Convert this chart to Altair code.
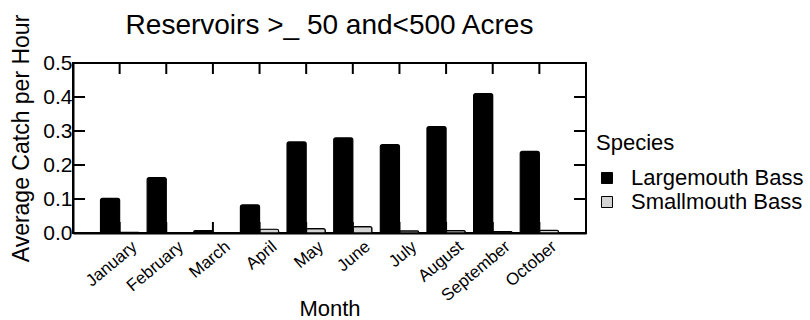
import altair as alt
import pandas as pd

# Monthly average catch per hour by species
months = ["January", "February", "March", "April", "May",
          "June", "July", "August", "September", "October"]
largemouth = [0.102, 0.163, 0.007, 0.083, 0.268, 0.280, 0.260, 0.313, 0.410, 0.240]
smallmouth = [0.002, 0.001, 0.0, 0.011, 0.013, 0.019, 0.006, 0.007, 0.004, 0.008]
species = ["Largemouth Bass", "Smallmouth Bass"]
y_ticks = [0.0, 0.1, 0.2, 0.3, 0.4, 0.5]

FONT = "Liberation Sans"
W, H = 513, 170

rows = []
for m, lm, sm in zip(months, largemouth, smallmouth):
    rows.append({"Month": m, "Species": species[0], "Catch": lm})
    rows.append({"Month": m, "Species": species[1], "Catch": sm})
df = pd.DataFrame(rows)

x_scale = alt.Scale(domain=months, paddingInner=0.18, paddingOuter=0.59)
y_scale = alt.Scale(domain=[0, 0.5], nice=False, zero=True)

x_axis = alt.Axis(title="Month", labelAngle=-40, labelAlign="right",
                  labelBaseline="top", labelPadding=5, labelOffset=10,
                  labelFontSize=17, ticks=False, titleFontSize=22,
                  titleBaseline="alphabetic", titleY=82,
                  domainWidth=2, domainColor="black")
y_axis = alt.Axis(title="Average Catch per Hour", values=y_ticks, format=".1f",
                  labelFontSize=21, labelPadding=1, ticks=False,
                  titleFontSize=23, titleBaseline="alphabetic", titleX=-45, titleY=75,
                  grid=False, domainWidth=2, domainColor="black")

x_enc = alt.X("Month:N", scale=x_scale, sort=months, axis=x_axis)
y_enc = alt.Y("Catch:Q", scale=y_scale, axis=y_axis)

bars = alt.Chart(df).mark_bar(
    stroke="black", strokeWidth=1.2, cornerRadiusTopLeft=2, cornerRadiusTopRight=2
).encode(
    x=x_enc,
    xOffset=alt.XOffset("Species:N", sort=species,
                        scale=alt.Scale(paddingInner=0, paddingOuter=0)),
    y=y_enc,
    color=alt.Color("Species:N", sort=species,
                    scale=alt.Scale(domain=species, range=["#000000", "#d4d4d4"]),
                    legend=alt.Legend(title="Species", orient="none", legendX=523, legendY=70,
                                      titleFontSize=22, titleFontWeight="normal",
                                      labelFontSize=22, labelLimit=300,
                                      symbolType="square", symbolSize=121,
                                      symbolStrokeColor="black", symbolStrokeWidth=1,
                                      labelOffset=13, rowPadding=2, titlePadding=12)),
)

# inward tick marks on all four sides of the frame
month_df = pd.DataFrame({"Month": months})
ytick_df = pd.DataFrame({"Catch": y_ticks[1:-1]})

top_ticks = alt.Chart(month_df).mark_rule(color="black", strokeWidth=2).encode(
    x=x_enc, y=alt.value(0), y2=alt.value(11))
bottom_ticks = alt.Chart(month_df).mark_rule(color="black", strokeWidth=2).encode(
    x=x_enc, y=alt.value(H - 11), y2=alt.value(H))
left_ticks = alt.Chart(ytick_df).mark_rule(color="black", strokeWidth=2).encode(
    y=y_enc, x=alt.value(0), x2=alt.value(12))
right_ticks = alt.Chart(ytick_df).mark_rule(color="black", strokeWidth=2).encode(
    y=y_enc, x=alt.value(W - 12), x2=alt.value(W))

chart = alt.layer(bars, bottom_ticks, top_ticks, left_ticks, right_ticks).properties(
    width=W, height=H,
    title=alt.TitleParams("Reservoirs >_ 50 and<500 Acres", fontSize=28,
                          fontWeight="normal", anchor="middle", offset=0, dy=26, font=FONT),
    autosize=alt.AutoSizeParams(type="none"),
    padding={"left": 73, "top": 63, "right": 810 - 73 - W, "bottom": 320 - 63 - H},
).configure(
    font=FONT,
).configure_view(
    stroke="black", strokeWidth=2,
).configure_axis(
    labelColor="black", titleColor="black", labelFont=FONT, titleFont=FONT,
    titleFontWeight="normal",
).configure_legend(
    labelColor="black", titleColor="black", labelFont=FONT, titleFont=FONT,
)

chart.save("out.html", embed_options={"renderer": "svg", "actions": False})
